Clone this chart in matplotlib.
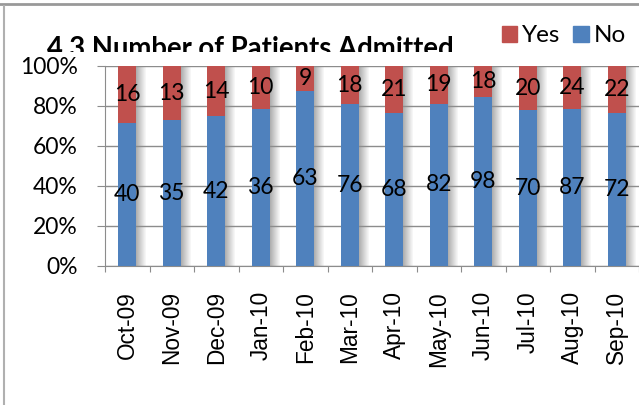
import numpy as np
import matplotlib.pyplot as plt
from matplotlib.patches import Patch
from matplotlib.lines import Line2D
from matplotlib.transforms import Bbox, TransformedBbox

months = ["Oct-09", "Nov-09", "Dec-09", "Jan-10", "Feb-10", "Mar-10",
          "Apr-10", "May-10", "Jun-10", "Jul-10", "Aug-10", "Sep-10"]
yes = [16, 13, 14, 10, 9, 18, 21, 19, 18, 20, 24, 22]
no = [40, 35, 42, 36, 63, 76, 68, 82, 98, 70, 87, 72]

RED = "#C0504D"
BLUE = "#4F81BD"
GREY = "#8C8C8C"

fig = plt.figure(figsize=(6.39, 4.05), dpi=100)
ax = fig.add_axes([105 / 639, 139 / 405, 534 / 639, 200 / 405])

x = np.arange(len(months))
tot = np.array(yes) + np.array(no)
no_pct = np.array(no) / tot * 100
yes_pct = np.array(yes) / tot * 100

w = 0.4
px = 1 / 44.4  # one pixel in data units
# soft shadow on the right of each bar
for k in range(12):
    ax.bar(x + w / 2 + (k - 1.5) * px, no_pct + yes_pct, width=px,
           color="#606060", alpha=0.6 * (1 - k / 12), zorder=1,
           linewidth=0, antialiased=False)

b_no = ax.bar(x, no_pct, w, color=BLUE, zorder=3, linewidth=0)
b_yes = ax.bar(x, yes_pct, w, bottom=no_pct, color=RED, zorder=3, linewidth=0)
ax.bar_label(b_no, labels=[str(v) for v in no], label_type="center",
             fontsize=16.5, family="Lato", zorder=4)
ax.bar_label(b_yes, labels=[str(v) for v in yes], label_type="center",
             fontsize=16.5, family="Lato", zorder=4)

ax.set_xlim(-0.5, 11.5)
ax.set_ylim(0, 100)
ax.set_yticks(range(0, 101, 20))
ax.set_yticklabels([f"{v}%" for v in range(0, 101, 20)], family="Lato", fontsize=16.5)
ax.set_xticks(np.arange(len(months) + 1) - 0.5)
ax.set_xticklabels([])
ax.set_xticks(x, minor=True)
ax.set_xticklabels(months, minor=True, rotation=90, family="Liberation Sans", fontsize=16.3)
ax.tick_params(axis="x", which="minor", length=0, pad=18)
ax.tick_params(axis="x", which="major", length=4.5, color=GREY)
ax.tick_params(axis="y", length=6, color=GREY, pad=13.5)
ax.yaxis.grid(True, color=GREY, lw=1)
for s in ["top", "right"]:
    ax.spines[s].set_visible(False)
for s in ["left", "bottom"]:
    ax.spines[s].set_color(GREY)

# title, partly hidden by the plot area as in the original
t = fig.text(47 / 639, 1 - 57 / 405, "4.3 Number of Patients Admitted",
             fontsize=19.8, fontweight="bold", family="Lato", va="baseline")
t.set_clip_box(TransformedBbox(Bbox([[0, 1 - 52 / 405], [1, 1]]), fig.transFigure))
t.set_clip_on(True)

handles = [Patch(color=RED, label="Yes"), Patch(color=BLUE, label="No")]
fig.legend(handles=handles, loc="center right", bbox_to_anchor=(1.0, 1 - 36 / 405),
           ncol=2, frameon=False, prop={"family": "Lato", "size": 17.5},
           handlelength=0.62, handleheight=0.62, handletextpad=0.2,
           columnspacing=0.55, borderaxespad=0.15)

# frame lines of the chart box
fig.add_artist(Line2D([0, 1], [1 - 4 / 405] * 2, transform=fig.transFigure,
                      color="#999999", lw=2))
fig.add_artist(Line2D([4 / 639] * 2, [0, 1 - 6 / 405], transform=fig.transFigure,
                      color="#B0B0B0", lw=1.5))

fig.savefig("out.png", dpi=100)
